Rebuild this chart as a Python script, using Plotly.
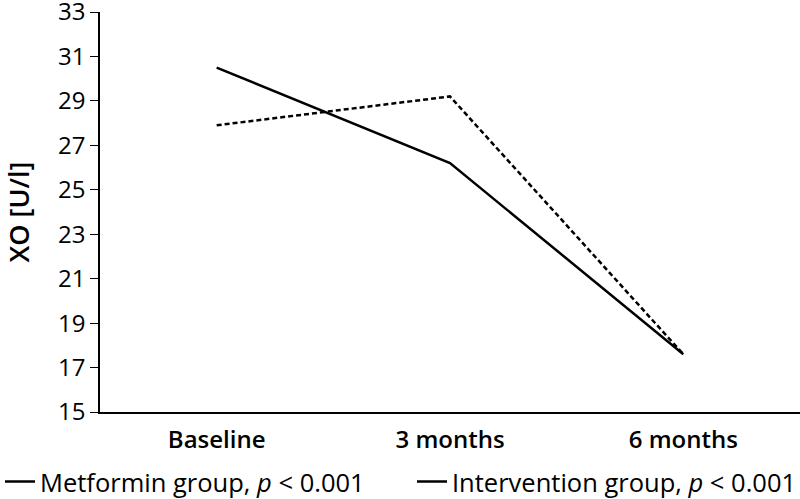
import plotly.graph_objects as go

categories = ["Baseline", "3 months", "6 months"]
metformin = [30.5, 26.2, 17.6]
intervention = [27.9, 29.2, 17.6]
y_ticks = [15, 17, 19, 21, 23, 25, 27, 29, 31, 33]
legend_names = ["Metformin group, <i>p</i> < 0.001", "Intervention group, <i>p</i> < 0.001"]

FONT = "Open Sans"

fig = go.Figure()
fig.add_trace(go.Scatter(x=categories, y=metformin, mode="lines",
                         line=dict(color="black", width=2.5), showlegend=False))
fig.add_trace(go.Scatter(x=categories, y=intervention, mode="lines",
                         line=dict(color="black", width=2.5, dash="5px,3px"), showlegend=False))
# legend entries (both drawn solid in the reference)
for name, lg in zip(legend_names, ["legend", "legend2"]):
    fig.add_trace(go.Scatter(x=[None], y=[None], mode="lines", name=name, legend=lg,
                             showlegend=True, line=dict(color="black", width=2.5)))

leg_common = dict(orientation="h", xref="container", yref="container", xanchor="left",
                  y=0.034, yanchor="middle", font=dict(size=25.5, family=FONT),
                  itemwidth=30, borderwidth=0, bgcolor="rgba(0,0,0,0)")

fig.update_layout(
    width=800, height=499,
    margin=dict(l=100, r=0, t=12, b=87, autoexpand=False),
    paper_bgcolor="white", plot_bgcolor="white",
    font=dict(family=FONT, color="black", size=24),
    legend=dict(x=0.0, **leg_common),
    legend2=dict(x=0.515, **leg_common),
    xaxis=dict(type="category", range=[-0.5, 2.5], showline=True, linecolor="black",
               linewidth=1.5, ticks="", showgrid=False, zeroline=False,
               ticklabelstandoff=5,
               tickfont=dict(family=FONT, size=24, weight=600)),
    yaxis=dict(range=[15, 33], tickvals=y_ticks, showline=True, linecolor="black",
               linewidth=1.5, ticks="outside", ticklen=8, tickcolor="black",
               showgrid=False, zeroline=False, ticklabeloverflow="allow",
               title=dict(text="XO [U/l]", font=dict(size=27, family=FONT, weight=600),
                          standoff=31),
               tickfont=dict(family=FONT, size=24)),
)

fig.write_html("out.html", config={"displayModeBar": False},
               post_script="document.body.style.margin='0';")
